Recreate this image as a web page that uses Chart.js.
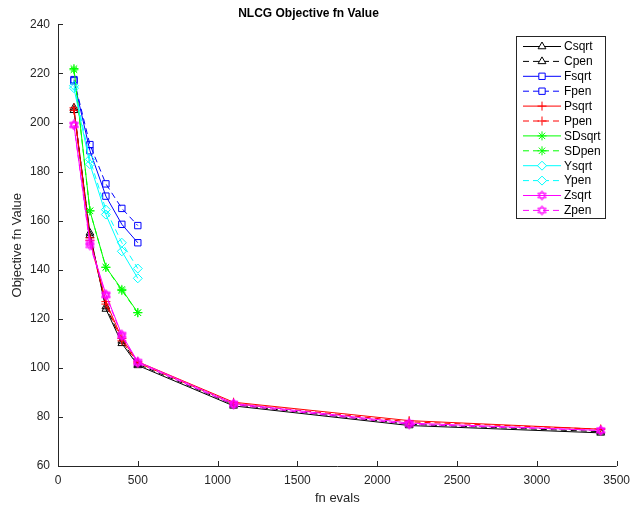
<!DOCTYPE html>
<html>
<head>
<meta charset="utf-8">
<script src="https://cdn.jsdelivr.net/npm/chart.js@4.4.1/dist/chart.umd.min.js"></script>
<style>
  html, body { margin: 0; padding: 0; background: #fff; }
  #wrap { width: 637px; height: 506px; }
</style>
</head>
<body>
<div id="wrap"><canvas id="c"></canvas></div>
<script>
// fn evals
const evalsLong = [100, 200, 300, 400, 500, 1100, 2200, 3400];
const evalsShort = [100, 200, 300, 400, 500];

const csqrt = [205, 155, 124, 110, 101, 84.5, 76.5, 73.5];
const cpen = [206, 154, 125, 111, 101.5, 85, 77, 74];
const fsqrt = [217, 188.5, 170, 158.5, 151];
const fpen = [217.5, 191, 175, 165, 158];
const psqrt = [206, 153, 127, 112, 102.5, 86, 78.5, 75];
const ppen = [205, 152, 126, 111, 102, 85.5, 78, 75];
const sdsqrt = [222, 164, 141, 132, 122.5];
const sdpen = [221.5, 164, 141, 131.5, 122.5];
const ysqrt = [214, 183, 162.5, 147.5, 136.5];
const ypen = [215, 185, 164.5, 151, 140.5];
const zsqrt = [199, 151, 130, 113.5, 102.5, 85.5, 77.5, 74.5];
const zpen = [199, 150, 129.5, 113, 102, 85, 77, 74.5];

const xTicks = [0, 500, 1000, 1500, 2000, 2500, 3000, 3500];
const yTicks = [60, 80, 100, 120, 140, 160, 180, 200, 220, 240];

// six-pointed star marker (outline) for the Z series
function hexagram(color) {
  const s = 11, c = document.createElement('canvas');
  c.width = s; c.height = s;
  const g = c.getContext('2d');
  g.strokeStyle = color; g.lineWidth = 1;
  const r = 4.8, cx = s / 2, cy = s / 2;
  [0, Math.PI].forEach(function (off) {
    g.beginPath();
    for (let k = 0; k < 3; k++) {
      const a = off - Math.PI / 2 + k * 2 * Math.PI / 3;
      const px = cx + r * Math.cos(a), py = cy + r * Math.sin(a);
      if (k === 0) g.moveTo(px, py); else g.lineTo(px, py);
    }
    g.closePath();
    g.stroke();
  });
  return c;
}

function pts(xs, ys) {
  return ys.map(function (v, i) { return { x: xs[i], y: v }; });
}

function series(label, xs, ys, color, style, dashed) {
  return {
    label: label,
    data: pts(xs, ys),
    borderColor: color,
    backgroundColor: 'rgba(0,0,0,0)',
    pointBorderColor: color,
    pointBackgroundColor: 'rgba(0,0,0,0)',
    pointStyle: style,
    pointRadius: 4.5,
    pointBorderWidth: 1,
    borderWidth: 1,
    borderDash: dashed ? [6, 4] : [],
    showLine: true,
    tension: 0
  };
}

const datasets = [
  series('Csqrt', evalsLong, csqrt, '#000000', 'triangle', false),
  series('Cpen', evalsLong, cpen, '#000000', 'triangle', true),
  series('Fsqrt', evalsShort, fsqrt, '#0000ff', 'rect', false),
  series('Fpen', evalsShort, fpen, '#0000ff', 'rect', true),
  series('Psqrt', evalsLong, psqrt, '#ff0000', 'cross', false),
  series('Ppen', evalsLong, ppen, '#ff0000', 'cross', true),
  series('SDsqrt', evalsShort, sdsqrt, '#00ff00', 'star', false),
  series('SDpen', evalsShort, sdpen, '#00ff00', 'star', true),
  series('Ysqrt', evalsShort, ysqrt, '#00ffff', 'rectRot', false),
  series('Ypen', evalsShort, ypen, '#00ffff', 'rectRot', true),
  series('Zsqrt', evalsLong, zsqrt, '#ff00ff', hexagram('#ff00ff'), false),
  series('Zpen', evalsLong, zpen, '#ff00ff', hexagram('#ff00ff'), true)
];
// later series on top, as in the original
datasets.forEach(function (d, i) { d.order = -i; });

// axis lines with inward ticks + legend box inside the plot
const frame = {
  id: 'frame',
  afterDraw(chart) {
    const ctx = chart.ctx, a = chart.chartArea;
    const xs = chart.scales.x, ys = chart.scales.y;
    ctx.save();
    ctx.strokeStyle = '#262626';
    ctx.lineWidth = 1;
    ctx.beginPath();
    ctx.moveTo(a.left + 0.5, a.top);
    ctx.lineTo(a.left + 0.5, a.bottom + 0.5);
    ctx.lineTo(a.right, a.bottom + 0.5);
    xs.ticks.forEach(function (t) {
      const px = Math.round(xs.getPixelForValue(t.value)) + 0.5;
      ctx.moveTo(px, a.bottom);
      ctx.lineTo(px, a.bottom - 5);
    });
    ys.ticks.forEach(function (t) {
      const py = Math.round(ys.getPixelForValue(t.value)) + 0.5;
      ctx.moveTo(a.left, py);
      ctx.lineTo(a.left + 5, py);
    });
    ctx.stroke();

    // legend
    const bx = 516, by = 36, bw = 89, bh = 182, rowH = 14.9;
    ctx.fillStyle = '#fff';
    ctx.fillRect(bx, by, bw, bh);
    ctx.strokeStyle = '#262626';
    ctx.strokeRect(bx + 0.5, by + 0.5, bw, bh);
    ctx.font = '12px "Liberation Sans", Arial, sans-serif';
    ctx.textBaseline = 'middle';
    ctx.textAlign = 'left';
    chart.data.datasets.forEach(function (d, i) {
      const y = by + 10.5 + i * rowH;
      ctx.strokeStyle = d.borderColor;
      ctx.lineWidth = 1;
      ctx.setLineDash(d.borderDash);
      ctx.beginPath();
      ctx.moveTo(523, y);
      ctx.lineTo(561, y);
      ctx.stroke();
      ctx.setLineDash([]);
      ctx.fillStyle = '#fff';
      Chart.helpers.drawPoint(ctx, {
        pointStyle: d.pointStyle, radius: 4.5, rotation: 0, borderWidth: 1
      }, 542, y);
      ctx.fillStyle = '#000';
      ctx.fillText(d.label, 564, y + 0.5);
    });
    ctx.restore();
  }
};

const tickFont = { family: '"Liberation Sans", Arial, sans-serif', size: 12 };

new Chart(document.getElementById('c').getContext('2d'), {
  type: 'scatter',
  data: { datasets: datasets },
  options: {
    responsive: true,
    maintainAspectRatio: false,
    animation: false,
    layout: { padding: { top: 0, right: 20, left: 0, bottom: 0 } },
    plugins: {
      legend: { display: false },
      tooltip: { enabled: false },
      title: {
        display: true,
        text: 'NLCG Objective fn Value',
        color: '#000',
        font: { family: '"Liberation Sans", Arial, sans-serif', size: 12, weight: 'bold' },
        padding: { top: 6, bottom: 4 }
      }
    },
    scales: {
      x: {
        type: 'linear',
        min: 0,
        max: 3500,
        afterBuildTicks: function (s) { s.ticks = xTicks.map(function (v) { return { value: v }; }); },
        afterFit: function (s) { s.height = 40; },
        grid: { display: false, drawTicks: false },
        border: { display: false },
        ticks: {
          color: '#262626', font: tickFont, padding: 7, maxRotation: 0,
          callback: function (v) { return String(v); }
        },
        title: {
          display: true, text: 'fn evals', color: '#262626',
          font: { family: '"Liberation Sans", Arial, sans-serif', size: 13 },
          padding: { top: 4, bottom: 0 }
        }
      },
      y: {
        type: 'linear',
        min: 60,
        max: 240,
        afterBuildTicks: function (s) { s.ticks = yTicks.map(function (v) { return { value: v }; }); },
        afterFit: function (s) { s.width = 58; },
        grid: { display: false, drawTicks: false },
        border: { display: false },
        ticks: {
          color: '#262626', font: tickFont, padding: 8,
          callback: function (v) { return String(v); }
        },
        title: {
          display: true, text: 'Objective fn Value', color: '#262626',
          font: { family: '"Liberation Sans", Arial, sans-serif', size: 13 },
          padding: { top: 10, bottom: 0 }
        }
      }
    }
  },
  plugins: [frame]
});
</script>
</body>
</html>
